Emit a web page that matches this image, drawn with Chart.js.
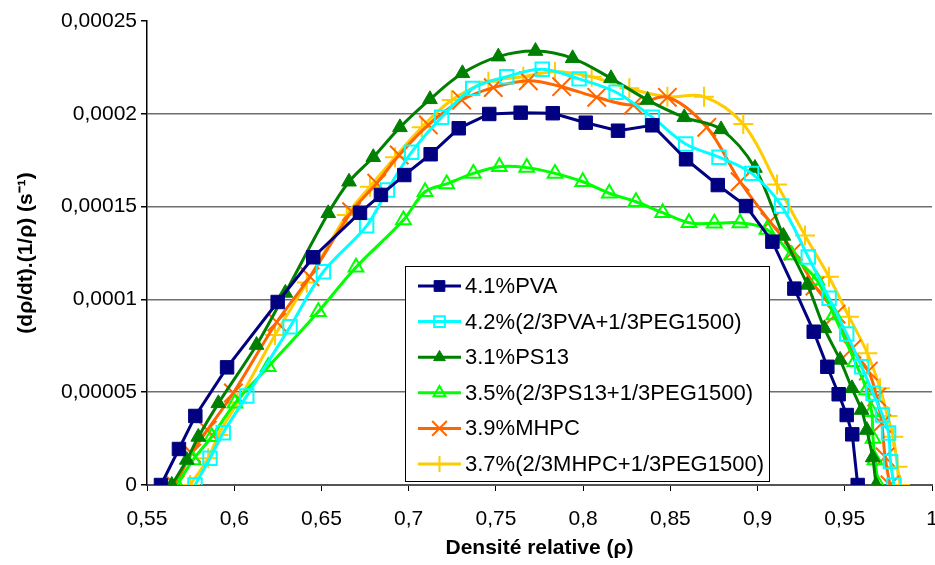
<!DOCTYPE html>
<html><head><meta charset="utf-8">
<script src="https://cdn.jsdelivr.net/npm/chart.js@4"></script>
<style>html,body{margin:0;padding:0;background:#fff}#wrap{width:935px;height:565px;position:relative}</style>
</head><body><div id="wrap"><canvas id="c" width="935" height="565"></canvas></div>
<script>
// ---- axis ticks ----
const xTickValues = [0.55,0.6,0.65,0.7,0.75,0.8,0.85,0.9,0.95,1];
const xTickLabels = ['0,55','0,6','0,65','0,7','0,75','0,8','0,85','0,9','0,95','1'];
const yTickValues = [0,0.00005,0.0001,0.00015,0.0002,0.00025];
const yTickLabels = ['0','0,00005','0,0001','0,00015','0,0002','0,00025'];
const xTitle = 'Densité relative (ρ)';
const yTitle = '(dρ/dt).(1/ρ) (s⁻¹)';
const seriesNames = ['4.1%PVA','4.2%(2/3PVA+1/3PEG1500)','3.1%PS13','3.5%(2/3PS13+1/3PEG1500)','3.9%MHPC','3.7%(2/3MHPC+1/3PEG1500)'];

// ---- series values ----
const pvaX = [0.5580,0.5683,0.5777,0.5959,0.6249,0.6453,0.6721,0.6841,0.6975,0.7126,0.7287,0.7462,0.7642,0.7826,0.8015,0.8200,0.8397,0.8590,0.8772,0.8934,0.9085,0.9211,0.9322,0.9400,0.9465,0.9511,0.9543,0.9574];
const pvaY = [0,1.94e-5,3.72e-5,6.34e-5,9.86e-5,1.227e-4,1.467e-4,1.563e-4,1.670e-4,1.782e-4,1.922e-4,1.999e-4,2.006e-4,2.003e-4,1.952e-4,1.909e-4,1.938e-4,1.755e-4,1.616e-4,1.503e-4,1.311e-4,1.058e-4,8.26e-5,6.37e-5,4.89e-5,3.77e-5,2.73e-5,0];

const pvaPegX = [0.5775,0.5861,0.5937,0.6072,0.6320,0.6511,0.6759,0.6878,0.7017,0.7189,0.7367,0.7562,0.7766,0.7977,0.8189,0.8397,0.8588,0.8779,0.8966,0.9138,0.9291,0.9410,0.9511,0.9597,0.9662,0.9716,0.9751,0.9762,0.9782];
const pvaPegY = [0,1.44e-5,2.82e-5,4.80e-5,8.53e-5,1.149e-4,1.396e-4,1.589e-4,1.793e-4,1.981e-4,2.137e-4,2.200e-4,2.24e-4,2.188e-4,2.116e-4,1.981e-4,1.837e-4,1.766e-4,1.679e-4,1.503e-4,1.228e-4,1.006e-4,8.14e-5,6.37e-5,4.94e-5,3.77e-5,2.80e-5,1.26e-5,0];

const ps13X = [0.5642,0.5728,0.5794,0.5909,0.6128,0.6293,0.6539,0.6658,0.6797,0.6950,0.7122,0.7308,0.7514,0.7727,0.7940,0.8160,0.8370,0.8580,0.8791,0.8985,0.9148,0.9286,0.9383,0.9473,0.9541,0.9596,0.9626,0.9660,0.9679];
const ps13Y = [0,1.35e-5,2.59e-5,4.40e-5,7.54e-5,1.035e-4,1.464e-4,1.634e-4,1.766e-4,1.927e-4,2.078e-4,2.218e-4,2.308e-4,2.338e-4,2.299e-4,2.191e-4,2.074e-4,1.981e-4,1.916e-4,1.708e-4,1.342e-4,1.078e-4,8.44e-5,6.74e-5,5.21e-5,4.04e-5,2.96e-5,1.48e-5,0];

const ps13PegX = [0.5672,0.5764,0.5871,0.6004,0.6195,0.6482,0.6698,0.6970,0.7094,0.7218,0.7371,0.7520,0.7677,0.7839,0.7998,0.8150,0.8303,0.8456,0.8607,0.8752,0.8899,0.9054,0.9196,0.9339,0.9438,0.9559,0.9626,0.9654,0.9662,0.9673,0.9692];
const ps13PegY = [0,1.35e-5,2.60e-5,4.40e-5,6.37e-5,9.34e-5,1.173e-4,1.428e-4,1.580e-4,1.622e-4,1.679e-4,1.715e-4,1.710e-4,1.679e-4,1.634e-4,1.572e-4,1.526e-4,1.467e-4,1.413e-4,1.410e-4,1.412e-4,1.377e-4,1.239e-4,1.105e-4,9.16e-5,6.64e-5,5.12e-5,3.95e-5,2.5e-5,1.35e-5,0];

const mhpcX = [0.5661,0.5756,0.5846,0.5995,0.6244,0.6434,0.6673,0.6817,0.6946,0.7113,0.7304,0.7485,0.7686,0.7877,0.8078,0.8288,0.8483,0.8709,0.8900,0.9071,0.9205,0.9329,0.9450,0.9540,0.9635,0.9683,0.9712,0.9731,0.9759];
const mhpcY = [0,1.71e-5,2.96e-5,4.96e-5,8.78e-5,1.122e-4,1.473e-4,1.626e-4,1.778e-4,1.940e-4,2.074e-4,2.141e-4,2.178e-4,2.146e-4,2.089e-4,2.047e-4,2.089e-4,1.927e-4,1.634e-4,1.419e-4,1.260e-4,1.072e-4,9.21e-5,7.33e-5,6.14e-5,4.74e-5,3.32e-5,1.51e-5,0];

const mhpcPegX = [0.5747,0.5851,0.5909,0.6019,0.6234,0.6416,0.6645,0.6778,0.6922,0.7075,0.7247,0.7457,0.7657,0.7839,0.8049,0.8265,0.8483,0.8693,0.8918,0.9112,0.9272,0.9409,0.9524,0.9630,0.9702,0.9745,0.9778,0.9802,0.9817];
const mhpcPegY = [0,1.44e-5,2.69e-5,4.45e-5,8.08e-5,1.091e-4,1.455e-4,1.607e-4,1.766e-4,1.927e-4,2.074e-4,2.173e-4,2.200e-4,2.227e-4,2.200e-4,2.137e-4,2.092e-4,2.092e-4,1.945e-4,1.619e-4,1.344e-4,1.122e-4,9.07e-5,7.10e-5,5.21e-5,3.72e-5,2.60e-5,9.9e-6,0];

const zip = (xs, ys) => xs.map((x, i) => ({x: x, y: ys[i]}));

Chart.defaults.font.family = "'Liberation Sans', Arial, Helvetica, sans-serif";
Chart.defaults.color = '#000';

function ds(name, xs, ys, color, style, radius, fill, bw, tension) {
  return {
    label: name, data: zip(xs, ys), showLine: true,
    borderColor: color, borderWidth: 3, tension: tension,
    pointStyle: style, pointRadius: radius, pointHoverRadius: radius,
    pointBackgroundColor: fill, pointBorderColor: color, pointBorderWidth: bw
  };
}

const datasets = [
  ds(seriesNames[0], pvaX, pvaY, '#000080', 'rect', 9.5, '#000080', 1, 0),
  ds(seriesNames[1], pvaPegX, pvaPegY, '#00FFFF', 'rect', 9.5, 'rgba(0,0,0,0)', 2, 0.35),
  ds(seriesNames[2], ps13X, ps13Y, '#008000', 'triangle', 8.5, '#008000', 1, 0.35),
  ds(seriesNames[3], ps13PegX, ps13PegY, '#00FF00', 'triangle', 8.5, 'rgba(0,0,0,0)', 2, 0.35),
  ds(seriesNames[4], mhpcX, mhpcY, '#FF6600', 'crossRot', 13, 'rgba(0,0,0,0)', 2, 0.35),
  ds(seriesNames[5], mhpcPegX, mhpcPegY, '#FFCC00', 'cross', 10, 'rgba(0,0,0,0)', 2, 0.35)
];

const boxLegend = {
  id: 'boxLegend',
  afterDatasetsDraw(chart) {
    const ctx = chart.ctx;
    ctx.save();
    const bx = 405, by = 266, bw = 364, bh = 215;
    ctx.fillStyle = '#fff';
    ctx.fillRect(bx, by, bw, bh);
    ctx.strokeStyle = '#000';
    ctx.lineWidth = 1;
    ctx.strokeRect(bx + 0.5, by + 0.5, bw, bh);
    chart.data.datasets.forEach((d, i) => {
      const y = by + 20 + i * 35.6;
      ctx.strokeStyle = d.borderColor;
      ctx.lineWidth = 3;
      ctx.beginPath(); ctx.moveTo(418, y); ctx.lineTo(461, y); ctx.stroke();
      ctx.fillStyle = d.pointBackgroundColor;
      ctx.strokeStyle = d.pointBorderColor;
      ctx.lineWidth = d.pointBorderWidth;
      Chart.helpers.drawPoint(ctx, {pointStyle: d.pointStyle, radius: d.pointRadius * 0.8, rotation: 0, borderWidth: d.pointBorderWidth}, 439.5, y);
      ctx.fillStyle = '#000';
      ctx.font = "22px 'Liberation Sans', Arial, sans-serif";
      ctx.textBaseline = 'middle';
      ctx.textAlign = 'left';
      ctx.fillText(d.label, 465, y + 1);
    });
    ctx.restore();
  }
};

new Chart(document.getElementById('c'), {
  type: 'scatter',
  data: {datasets: datasets},
  plugins: [boxLegend],
  options: {
    responsive: false, animation: false, devicePixelRatio: 1,
    layout: {autoPadding: false, padding: {top: 21, right: 3, left: 0, bottom: 0}},
    plugins: {legend: {display: false}, tooltip: {enabled: false}},
    scales: {
      x: {
        type: 'linear', min: 0.55, max: 1,
        afterBuildTicks: s => { s.ticks = xTickValues.map(v => ({value: v})); },
        afterFit: s => { s.height = 80; s.paddingRight = 3; s.paddingLeft = 0; },
        ticks: {font: {size: 21}, padding: 16, maxRotation: 0, autoSkip: false,
          callback: (v, i) => xTickLabels[i]},
        grid: {drawOnChartArea: false, drawTicks: true, tickLength: 6, tickColor: '#000', lineWidth: 1},
        border: {color: '#555', width: 2},
        title: {display: true, text: xTitle, font: {size: 21, weight: 'bold'}, padding: {top: 0, bottom: 4}}
      },
      y: {
        type: 'linear', min: 0, max: 0.00025,
        afterBuildTicks: s => { s.ticks = yTickValues.map(v => ({value: v})); },
        afterFit: s => { s.width = 147; },
        ticks: {font: {size: 21}, padding: 4, autoSkip: false,
          callback: (v, i) => yTickLabels[i]},
        grid: {
          color: c => (c.index === yTickValues.length - 1 ? 'rgba(0,0,0,0)' : '#6e6e6e'),
          tickColor: '#000', tickLength: 6, lineWidth: 1.5
        },
        border: {color: '#000', width: 1.5},
        title: {display: true, text: yTitle, font: {size: 21, weight: 'bold'}, padding: {top: 14, bottom: 0}}
      }
    }
  }
});
</script>
</body></html>
